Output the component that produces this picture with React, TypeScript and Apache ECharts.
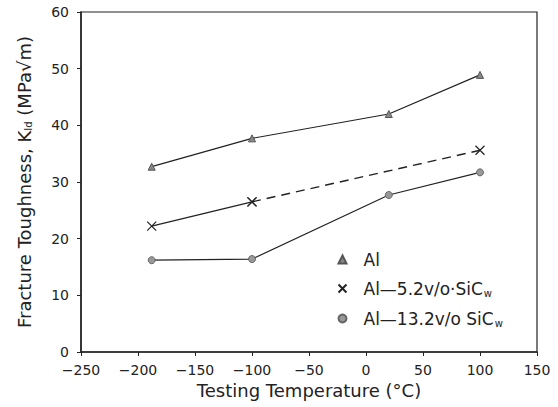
import React, { useEffect, useRef } from "react";
import * as echarts from "echarts";

const alTemps = [-188, -100, 20, 100];
const alValues = [32.7, 37.7, 42.0, 48.9];

const sic5Temps = [-188, -100, 100];
const sic5Values = [22.2, 26.5, 35.6];

const sic13Temps = [-188, -100, 20, 100];
const sic13Values = [16.2, 16.4, 27.7, 31.7];

const seriesNames = ["Al", "Al\u20145.2v/o SiCw", "Al\u201413.2v/o SiCw"];
const legendLabels = ["Al", "Al\u20145.2v/o\u00b7SiC{sub|w}", "Al\u201413.2v/o SiC{sub|w}"];

const X_PATH = "path://M0,0 L10,10 M10,0 L0,10";
const FONT = "DejaVu Sans";
const INK = "#222";

const pairs = (xs: number[], ys: number[]) => xs.map((x, i) => [x, ys[i]]);
const tickFmt = (v: number) => String(v).replace("-", "\u2212");

export default function App() {
  const ref = useRef<HTMLDivElement>(null);
  useEffect(() => {
    if (!ref.current) return;
    const chart = echarts.init(ref.current, null, { renderer: "svg" });
    const sic5 = pairs(sic5Temps, sic5Values);
    chart.setOption({
      animation: false,
      backgroundColor: "#fff",
      textStyle: { fontFamily: FONT, color: INK },
      grid: {
        left: 81,
        right: 21,
        top: 12,
        bottom: 55,
        show: true,
        borderColor: INK,
        borderWidth: 1.2,
      },
      xAxis: {
        type: "value",
        min: -250,
        max: 150,
        interval: 50,
        name: "Testing Temperature (\u00b0C)",
        nameLocation: "middle",
        nameGap: 29,
        nameTextStyle: { fontSize: 18, color: INK, fontFamily: FONT },
        axisLine: { show: true, onZero: false, lineStyle: { color: INK, width: 1.5 } },
        axisTick: { show: true, length: 4, lineStyle: { color: INK } },
        axisLabel: { fontSize: 14, color: INK, margin: 11, fontFamily: FONT, formatter: tickFmt },
        splitLine: { show: false },
      },
      yAxis: {
        type: "value",
        min: 0,
        max: 60,
        interval: 10,
        name: "Fracture Toughness, K{sub|Id} (MPa\u221am)",
        nameLocation: "middle",
        nameGap: 48,
        nameTextStyle: {
          fontSize: 18,
          color: INK,
          fontFamily: FONT,
          rich: { sub: { fontSize: 10, verticalAlign: "bottom", padding: [7, 0, 0, 0], fontFamily: FONT, color: INK } },
        },
        axisLine: { show: true, onZero: false, lineStyle: { color: INK, width: 1.5 } },
        axisTick: { show: true, length: 4, lineStyle: { color: INK } },
        axisLabel: { fontSize: 14, color: INK, margin: 12, fontFamily: FONT, formatter: tickFmt },
        splitLine: { show: false },
      },
      legend: {
        orient: "vertical",
        left: 331,
        top: 246,
        itemWidth: 8,
        itemHeight: 8,
        itemGap: 12,
        data: [
          { name: seriesNames[0], icon: "triangle" },
          { name: seriesNames[1], icon: X_PATH },
          { name: seriesNames[2], icon: "circle" },
        ],
        formatter: (name: string) => legendLabels[seriesNames.indexOf(name)],
        textStyle: {
          fontSize: 17,
          color: INK,
          fontFamily: FONT,
          padding: [0, 0, 0, 12],
          rich: { sub: { fontSize: 10, verticalAlign: "bottom", padding: [9, 0, 0, 1], fontFamily: FONT, color: INK } },
        },
      },
      series: [
        {
          name: seriesNames[0],
          type: "line",
          data: pairs(alTemps, alValues),
          symbol: "triangle",
          symbolSize: 7,
          itemStyle: { color: "#888", borderColor: "#555", borderWidth: 1 },
          lineStyle: { color: INK, width: 1.2 },
        },
        {
          name: seriesNames[1],
          type: "line",
          data: sic5.slice(0, 2),
          symbol: X_PATH,
          symbolSize: 9,
          itemStyle: { color: "none", borderColor: INK, borderWidth: 1.2 },
          lineStyle: { color: INK, width: 1.2 },
        },
        {
          type: "line",
          data: sic5.slice(1),
          symbol: X_PATH,
          symbolSize: 9,
          itemStyle: { color: "none", borderColor: INK, borderWidth: 1.2 },
          lineStyle: { color: INK, width: 1.4, type: [9, 6] },
        },
        {
          name: seriesNames[2],
          type: "line",
          data: pairs(sic13Temps, sic13Values),
          symbol: "circle",
          symbolSize: 7,
          itemStyle: { color: "#999", borderColor: "#666", borderWidth: 1 },
          lineStyle: { color: INK, width: 1.2 },
        },
      ],
    });
    return () => chart.dispose();
  }, []);
  return (
    <div
      ref={ref}
      style={{ position: "fixed", left: 0, top: 0, width: 558, height: 407 }}
    />
  );
}
